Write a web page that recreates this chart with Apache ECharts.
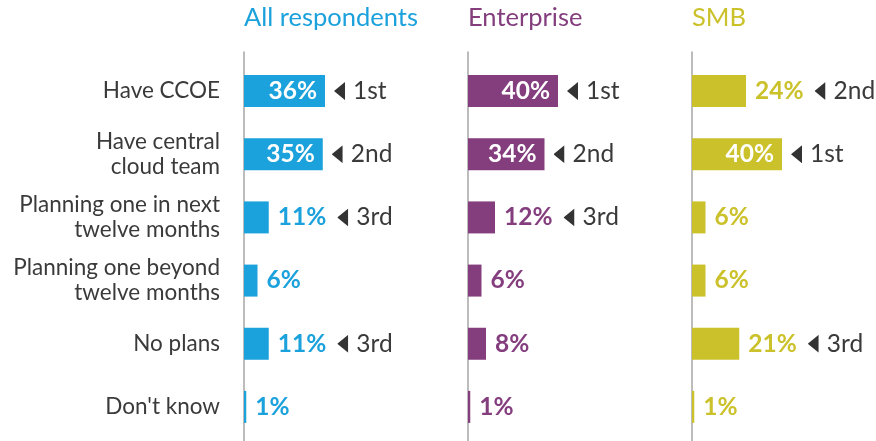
<!DOCTYPE html>
<html>
<head>
<meta charset="utf-8">
<script src="https://cdn.jsdelivr.net/npm/echarts@6/dist/echarts.min.js"></script>
<style>
  html, body { margin: 0; padding: 0; background: #fff; }
  #chart { width: 876px; height: 441px; }
</style>
</head>
<body>
<div id="chart"></div>
<script>
// rows, top to bottom
const categories = [
  'Have CCOE',
  'Have central\ncloud team',
  'Planning one in next\ntwelve months',
  'Planning one beyond\ntwelve months',
  'No plans',
  "Don't know",
]

const panelNames = ['All respondents', 'Enterprise', 'SMB']
const panelColors = ['#1BA1DB', '#843E7E', '#CBC12B']

const allValues = [36, 35, 11, 6, 11, 1]
const enterpriseValues = [40, 34, 12, 6, 8, 1]
const smbValues = [24, 40, 6, 6, 21, 1]

const allRanks = ['1st', '2nd', '3rd', '', '3rd', '']
const enterpriseRanks = ['1st', '2nd', '3rd', '', '', '']
const smbRanks = ['2nd', '1st', '', '', '3rd', '']

const panelValues = [allValues, enterpriseValues, smbValues]
const panelRanks = [allRanks, enterpriseRanks, smbRanks]

const FONT = 'Lato'
const TEXT_COLOR = '#3a3a3a'
const INSIDE_MIN = 30 // values at or above this get their label inside the bar

// little left-pointing triangle used before the rank
const arrowSvg = 'data:image/svg+xml;utf8,' + encodeURIComponent(
  '<svg xmlns="http://www.w3.org/2000/svg" width="11" height="18"><polygon points="11,0 11,18 0,9" fill="#333333"/></svg>'
)
const arrowImg = new Image()
arrowImg.src = arrowSvg

// 2.25px per percent: 80% over 180px, all three panels share the scale
const panelLeft = [244, 468, 692]
const panelWidth = 180
const axisMax = 80

const chart = echarts.init(document.getElementById('chart'))

const grids = []
const xAxes = []
const yAxes = []
const series = []
const titles = []

panelNames.forEach((name, i) => {
  titles.push({
    text: name,
    left: panelLeft[i],
    top: 5,
    padding: 0,
    textStyle: { fontFamily: FONT, fontSize: 25.5, fontWeight: 'normal', color: panelColors[i] },
  })

  // bar grid
  grids.push({ left: panelLeft[i], width: panelWidth, top: 59.5, height: 379 })
  xAxes.push({ gridIndex: i, type: 'value', min: 0, max: axisMax, show: false })
  yAxes.push({
    gridIndex: i,
    type: 'category',
    inverse: true,
    data: categories,
    axisLine: { show: false },
    axisTick: { show: false },
    axisLabel: {
      show: i === 0,
      margin: 24,
      fontFamily: FONT,
      fontSize: 22.5,
      lineHeight: 25,
      color: TEXT_COLOR,
      align: 'right',
    },
  })

  const values = panelValues[i]
  const ranks = panelRanks[i]
  const color = panelColors[i]

  series.push({
    type: 'bar',
    xAxisIndex: i,
    yAxisIndex: i,
    data: values,
    barWidth: 32,
    itemStyle: { color: color },
    silent: true,
    label: {
      show: true,
      position: 'insideRight',
      distance: 8,
      fontFamily: FONT,
      fontSize: 24.5,
      fontWeight: 'bold',
      color: '#fff',
      formatter: (p) => (p.value >= INSIDE_MIN ? p.value + '%' : ''),
    },
  })

  // transparent copy carrying the outside labels and ranks
  series.push({
    type: 'bar',
    xAxisIndex: i,
    yAxisIndex: i,
    data: values,
    barWidth: 32,
    barGap: '-100%',
    itemStyle: { color: 'rgba(0,0,0,0)' },
    silent: true,
    z: 3,
    label: {
      show: true,
      position: 'right',
      distance: 9,
      formatter: (p) => {
        const rank = ranks[p.dataIndex]
        const rankPart = rank ? '{arr|}{sp2|}{rank|' + rank + '}' : ''
        if (p.value >= INSIDE_MIN) return rankPart
        return '{val|' + p.value + '%}' + (rank ? '{sp1|}' + rankPart : '')
      },
      rich: {
        val: { fontFamily: FONT, fontSize: 24.5, fontWeight: 'bold', color: color },
        arr: { width: 11, height: 18, backgroundColor: { image: arrowImg } },
        sp1: { width: 11 },
        sp2: { width: 8 },
        rank: { fontFamily: FONT, fontSize: 24.5, color: TEXT_COLOR },
      },
    },
  })
})

// separate grids just for the grey vertical axis lines (they run taller than the bars)
panelNames.forEach((name, i) => {
  const gi = grids.length
  grids.push({ left: panelLeft[i], width: panelWidth, top: 52, bottom: 0 })
  xAxes.push({ gridIndex: gi, type: 'value', show: false })
  yAxes.push({
    gridIndex: gi,
    type: 'value',
    z: 0,
    axisLine: { show: true, onZero: false, lineStyle: { color: '#a6a6a6', width: 1.5 } },
    axisTick: { show: false },
    axisLabel: { show: false },
    splitLine: { show: false },
  })
})

const option = {
  animation: false,
  title: titles,
  grid: grids,
  xAxis: xAxes,
  yAxis: yAxes,
  series: series,
}

arrowImg.onload = () => chart.setOption(option)
chart.setOption(option)
</script>
</body>
</html>
